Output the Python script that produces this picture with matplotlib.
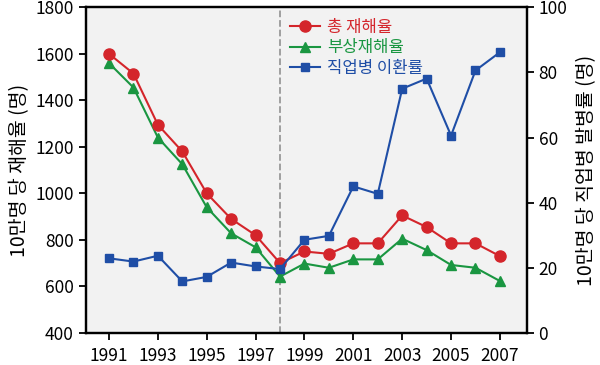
import matplotlib
matplotlib.use('Agg')
import matplotlib.pyplot as plt
from matplotlib.lines import Line2D

plt.rcParams['font.family'] = ['Liberation Sans Narrow', 'Noto Sans CJK KR', 'DejaVu Sans']

years = list(range(1991, 2008))
total_rate = [1600, 1515, 1295, 1180, 1000, 890, 820, 700,
              750, 740, 785, 785, 905, 855, 785, 785, 730]
injury_rate = [1560, 1455, 1240, 1125, 940, 828, 768, 642,
               698, 680, 716, 716, 805, 756, 692, 680, 623]
disease_rate = [22.9, 21.9, 23.7, 15.8, 17.2, 21.6, 20.4, 19.6,
                28.6, 29.8, 45.0, 42.7, 75.0, 78.1, 60.6, 80.6, 86.2]
labels = ['총 재해율', '부상재해율', '직업병 이환률']
xticks = list(range(1991, 2008, 2))

red = '#d4252b'
green = '#1a9641'
blue = '#1f4ea6'
kr = ['Noto Sans CJK KR', 'DejaVu Sans']

fig = plt.figure(figsize=(6, 3.65), dpi=100)
ax = fig.add_axes([0.143, 0.088, 0.735, 0.892])
ax.set_facecolor('#f2f2f2')
ax2 = ax.twinx()

ax.axvline(1998, color='#999999', ls='--', lw=1.3, zorder=1)
ax.plot(years, injury_rate, color=green, marker='^', ms=7.5, lw=1.5, zorder=3)
ax.plot(years, total_rate, color=red, marker='o', ms=8, lw=1.5, zorder=4)
ax2.plot(years, disease_rate, color=blue, marker='s', ms=6, lw=1.5, zorder=3)

ax.set_xlim(1990.05, 2008.1)
ax.set_ylim(400, 1800)
ax2.set_ylim(0, 100)
ax.set_xticks(xticks)
ax.set_yticks(range(400, 1801, 200))
ax2.set_yticks(range(0, 101, 20))

for a in (ax, ax2):
    a.tick_params(direction='out', length=5, width=1.3, labelsize=12.5)
    for s in a.spines.values():
        s.set_linewidth(1.6)
ax.tick_params(axis='x', pad=5)

ax.set_ylabel('10만명 당 재해율 (명)', fontsize=14, family=kr, labelpad=4)
ax2.set_ylabel('10만명 당 직업병 발병률 (명)', fontsize=14, family=kr,
               rotation=90, labelpad=6)

handles = [
    Line2D([], [], color=red, marker='o', ms=8, lw=1.5),
    Line2D([], [], color=green, marker='^', ms=7.5, lw=1.5),
    Line2D([], [], color=blue, marker='s', ms=6, lw=1.5),
]
leg = ax.legend(handles, labels, loc='upper left', bbox_to_anchor=(0.43, 1.01),
                frameon=False, handlelength=1.8, handletextpad=0.4,
                labelspacing=0.2, prop={'family': kr, 'size': 12})
for t, c in zip(leg.get_texts(), [red, green, blue]):
    t.set_color(c)

fig.savefig('out.png', dpi=100)
